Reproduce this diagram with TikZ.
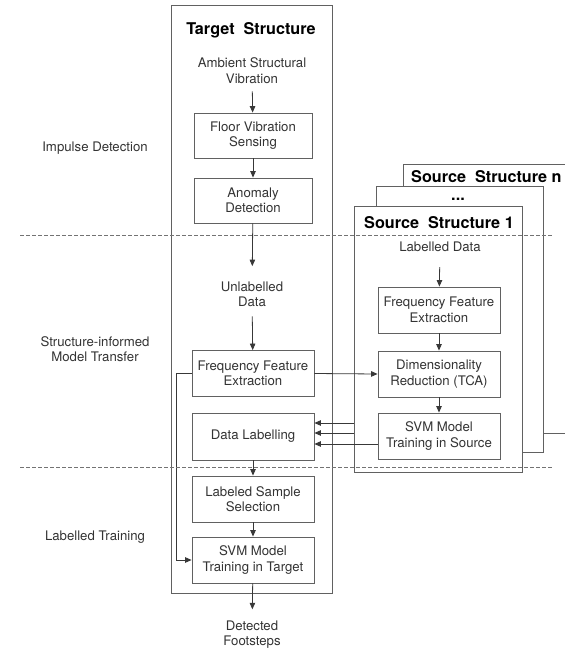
\documentclass[tikz,border=0pt]{standalone}
\usepackage{fontspec}
\setmainfont{TeX Gyre Heros}
\usetikzlibrary{arrows.meta,calc}
\begin{document}
\begin{tikzpicture}[x=1pt,y=-1pt,
  txt/.style={font=\fontsize{13.2}{15.5}\selectfont, text=black!80, align=center, inner sep=0pt},
  box/.style={draw=black!62, line width=0.85pt, minimum width=122pt, minimum height=46pt, txt},
  ttl/.style={font=\fontsize{16.2}{18}\selectfont\bfseries, text=black, inner sep=0pt},
  arr/.style={draw=black!78, line width=0.8pt, -{Triangle[length=6.5pt,width=5.5pt]}},
  frame/.style={draw=black!62, line width=0.85pt, fill=white, inner sep=0pt},
  sep/.style={draw=black!55, line width=0.8pt, dash pattern=on 3.5pt off 2.5pt}]
\useasboundingbox (0,0) rectangle (565,651);
\clip (0,0) rectangle (565,651);

% frames
\node[frame, minimum width=161pt, minimum height=588pt] (tgt) at (251.5,299) {};
\node[frame, minimum width=197pt, minimum height=269pt] (srcn) at (501.5,298.5) {};
\node[frame, minimum width=167pt, minimum height=266pt] (srcd) at (459.5,319) {};
\node[frame, minimum width=168pt, minimum height=266pt] (src1) at (438,339) {};

% titles
\node[ttl] (ttgt) at (251,30) {Target~~Structure};
\node[ttl, anchor=west] (tsrcn) at (411,177) {Source~~Structure n};
\node[ttl, anchor=base] (tdots) at (458,200) {...};
\node[ttl] (tsrc1) at (439,223) {Source~~Structure 1};

% left labels
\node[txt] (limp) at (95,148) {Impulse Detection};
\node[txt] (ltra) at (95,349) {Structure-informed\\Model Transfer};
\node[txt] (llab) at (95,537) {Labelled Training};

% target column
\node[txt] (amb) at (252,70.5) {Ambient Structural\\Vibration};
\node[box, minimum width=118pt, minimum height=45pt] (floor) at (253,135.5) {Floor Vibration\\Sensing};
\node[box, minimum width=118pt, minimum height=45pt] (anom) at (253,200.5) {Anomaly\\Detection};
\node[txt] (unl) at (252,294.5) {Unlabelled\\Data};
\node[box] (ffet) at (253,373.5) {Frequency Feature\\Extraction};
\node[box, minimum height=47pt] (dl) at (253,436.5) {Data Labelling};
\node[box] (lss) at (253,499) {Labeled Sample\\Selection};
\node[box] (svmt) at (253,560) {SVM Model\\Training in Target};
\node[txt] (det) at (252,634.5) {Detected\\Footsteps};

% source column
\node[txt] (lab) at (440,247) {Labelled Data};
\node[box] (ffes) at (439,310) {Frequency Feature\\Extraction};
\node[box] (dim) at (439,374) {Dimensionality\\Reduction (TCA)};
\node[box] (svms) at (439,436) {SVM Model\\Training in Source};

% arrows target
\draw[arr, shorten <=8pt] (amb) -- (floor);
\draw[arr] (floor) -- (anom);
\draw[arr, shorten >=15.5pt] (anom) -- (unl);
\draw[arr, shorten <=9pt] (unl) -- (ffet);
\draw[arr] (dl) -- (lss);
\draw[arr] (lss) -- (svmt);
\draw[arr, shorten >=11pt] (svmt) -- (det);
\draw[arr] (ffet.west) -- ++(-15,0) |- (svmt.west);

% arrows source
\draw[arr, shorten <=15pt] (lab) -- (ffes);
\draw[arr] (ffes) -- (dim);
\draw[arr] (dim) -- (svms);
\draw[arr] (ffet.east) -- (dim.west);

% arrows to data labelling
\coordinate (in1) at ($(dl.east)+(0,-13.5)$);
\coordinate (in2) at ($(dl.east)+(0,-3.5)$);
\coordinate (in3) at ($(dl.east)+(0,7.5)$);
\draw[arr] (src1.west |- in1) -- (in1);
\draw[arr] (src1.west |- in2) -- (in2);
\draw[arr] (svms.west |- in3) -- (in3);

% phase separators
\draw[sep] (20,235) -- (553,235);
\draw[sep] (20,467) -- (553,467);
\end{tikzpicture}
\end{document}
